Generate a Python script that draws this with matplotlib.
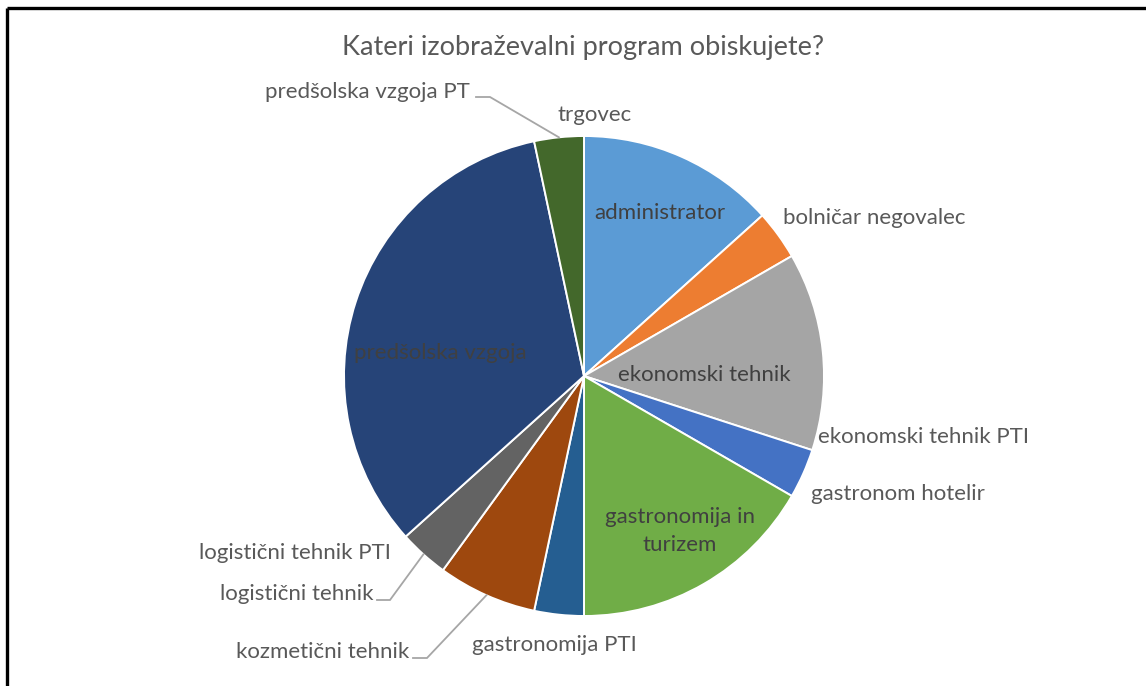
import numpy as np
import matplotlib.pyplot as plt

# canvas in pixels (y measured from the top, converted when drawing)
W, H = 1146, 686

programs = ['administrator', 'bolničar negovalec', 'ekonomski tehnik', 'ekonomski tehnik PTI',
            'gastronom hotelir', 'gastronomija in turizem', 'gastronomija PTI', 'kozmetični tehnik',
            'logistični tehnik', 'logistični tehnik PTI', 'predšolska vzgoja', 'predšolska vzgoja PT',
            'trgovec']
counts = [4, 1, 4, 0, 1, 5, 1, 2, 1, 0, 10, 1, 0]
colors = ['#5B9BD5', '#ED7D31', '#A5A5A5', '#FFC000', '#4472C4', '#70AD47', '#255E91',
          '#9E480E', '#636363', '#997300', '#264478', '#43682B', '#9DC3E6']
title = 'Kateri izobraževalni program obiskujete?'

plt.rcParams['font.family'] = ['Lato', 'DejaVu Sans']

fig = plt.figure(figsize=(W / 100, H / 100), dpi=100)
ax = fig.add_axes([0, 0, 1, 1])

def py(y):
    return H - y

cx, cy, R = 584, 376, 240

# only non-zero slices get a wedge
vals = np.array(counts, dtype=float)
mask = vals > 0
wedges, _ = ax.pie(vals[mask], colors=[c for c, m in zip(colors, mask) if m],
                   startangle=90, counterclock=False, center=(cx, py(cy)), radius=R,
                   wedgeprops=dict(edgecolor='white', linewidth=1.4), frame=True)
ax.set_xlim(0, W)
ax.set_ylim(0, H)
ax.set_aspect('equal')
ax.axis('off')
wedge_of = dict(zip([p for p, m in zip(programs, mask) if m], wedges))

def rim(name, f=1.0):
    w = wedge_of[name]
    a = np.deg2rad((w.theta1 + w.theta2) / 2)
    return cx + R * f * np.cos(a), py(cy) + R * f * np.sin(a)

txt = '#595959'
inner = '#404040'
fs = 16

ax.text(583, py(47), title, ha='center', va='center', fontsize=19.5, color=txt)

# label positions (pixel, from top) and alignment
labels = {
    'administrator': (660, 213, 'center', inner),
    'bolničar negovalec': (783, 218, 'left', txt),
    'ekonomski tehnik': (704, 375, 'center', inner),
    'ekonomski tehnik PTI': (818, 437, 'left', txt),
    'gastronom hotelir': (811, 494, 'left', txt),
    'gastronomija in turizem': (680, 531, 'center', inner),
    'gastronomija PTI': (554, 645, 'center', txt),
    'kozmetični tehnik': (409, 652, 'right', txt),
    'logistični tehnik': (373, 594, 'right', txt),
    'logistični tehnik PTI': (391, 553, 'right', txt),
    'predšolska vzgoja': (440, 353, 'center', inner),
    'predšolska vzgoja PT': (470, 92, 'right', txt),
    'trgovec': (595, 115, 'center', txt),
}
for name in programs:
    x, y, ha, col = labels[name]
    s = 'gastronomija in\nturizem' if name == 'gastronomija in turizem' else name
    ax.text(x, py(y), s, ha=ha, va='center', fontsize=fs, color=col, linespacing=1.45)

# leader lines: label end -> elbow -> slice rim
leaders = {
    'kozmetični tehnik': (413, 658, 427, 658),
    'logistični tehnik': (377, 600, 390, 600),
    'predšolska vzgoja PT': (476, 97, 490, 97),
}
for name, (x0, y0, x1, y1) in leaders.items():
    x2, y2 = rim(name, 1.0)
    ax.plot([x0, x1, x2], [py(y0), py(y1), y2], color='#A6A6A6', lw=1.3,
            solid_joinstyle='miter')

# frame of the original screenshot (top and left edges)
ax.plot([7, W], [py(8), py(8)], color='black', lw=2.4, solid_capstyle='butt')
ax.plot([7, 7], [py(8), 0], color='black', lw=2.4, solid_capstyle='butt')

fig.savefig('out.png', dpi=100)
